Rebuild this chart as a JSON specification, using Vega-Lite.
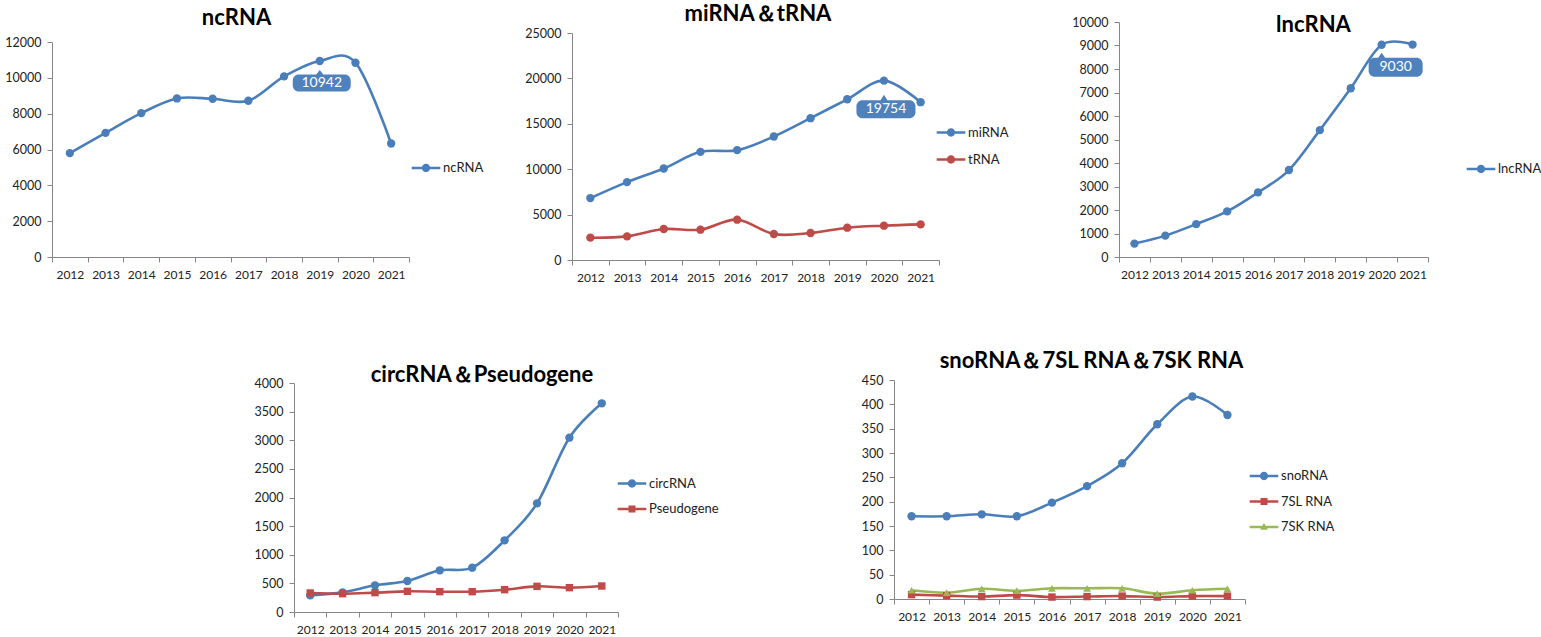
{
  "$schema": "https://vega.github.io/schema/vega-lite/v6.json",
  "background": "white",
  "padding": {"left": 4, "top": 3, "right": 0, "bottom": 0},
  "spacing": 67,
  "resolve": {
    "scale": {"color": "independent", "shape": "independent"},
    "legend": {"color": "independent", "shape": "independent"}
  },
  "datasets": {
    "counts": [
      {"year": "2012", "series": "ncRNA", "value": 5800},
      {"year": "2013", "series": "ncRNA", "value": 6930},
      {"year": "2014", "series": "ncRNA", "value": 8030},
      {"year": "2015", "series": "ncRNA", "value": 8850},
      {"year": "2016", "series": "ncRNA", "value": 8830},
      {"year": "2017", "series": "ncRNA", "value": 8720},
      {"year": "2018", "series": "ncRNA", "value": 10080},
      {"year": "2019", "series": "ncRNA", "value": 10942},
      {"year": "2020", "series": "ncRNA", "value": 10845},
      {"year": "2021", "series": "ncRNA", "value": 6335},
      {"year": "2012", "series": "miRNA", "value": 6820},
      {"year": "2013", "series": "miRNA", "value": 8580},
      {"year": "2014", "series": "miRNA", "value": 10080},
      {"year": "2015", "series": "miRNA", "value": 11910},
      {"year": "2016", "series": "miRNA", "value": 12100},
      {"year": "2017", "series": "miRNA", "value": 13600},
      {"year": "2018", "series": "miRNA", "value": 15620},
      {"year": "2019", "series": "miRNA", "value": 17700},
      {"year": "2020", "series": "miRNA", "value": 19754},
      {"year": "2021", "series": "miRNA", "value": 17380},
      {"year": "2012", "series": "tRNA", "value": 2460},
      {"year": "2013", "series": "tRNA", "value": 2600},
      {"year": "2014", "series": "tRNA", "value": 3410},
      {"year": "2015", "series": "tRNA", "value": 3340},
      {"year": "2016", "series": "tRNA", "value": 4440},
      {"year": "2017", "series": "tRNA", "value": 2860},
      {"year": "2018", "series": "tRNA", "value": 2970},
      {"year": "2019", "series": "tRNA", "value": 3560},
      {"year": "2020", "series": "tRNA", "value": 3780},
      {"year": "2021", "series": "tRNA", "value": 3920},
      {"year": "2012", "series": "lncRNA", "value": 570},
      {"year": "2013", "series": "lncRNA", "value": 910},
      {"year": "2014", "series": "lncRNA", "value": 1400},
      {"year": "2015", "series": "lncRNA", "value": 1940},
      {"year": "2016", "series": "lncRNA", "value": 2750},
      {"year": "2017", "series": "lncRNA", "value": 3700},
      {"year": "2018", "series": "lncRNA", "value": 5400},
      {"year": "2019", "series": "lncRNA", "value": 7180},
      {"year": "2020", "series": "lncRNA", "value": 9030},
      {"year": "2021", "series": "lncRNA", "value": 9040},
      {"year": "2012", "series": "circRNA", "value": 290},
      {"year": "2013", "series": "circRNA", "value": 343},
      {"year": "2014", "series": "circRNA", "value": 466},
      {"year": "2015", "series": "circRNA", "value": 541},
      {"year": "2016", "series": "circRNA", "value": 728},
      {"year": "2017", "series": "circRNA", "value": 774},
      {"year": "2018", "series": "circRNA", "value": 1252},
      {"year": "2019", "series": "circRNA", "value": 1898},
      {"year": "2020", "series": "circRNA", "value": 3045},
      {"year": "2021", "series": "circRNA", "value": 3645},
      {"year": "2012", "series": "Pseudogene", "value": 332},
      {"year": "2013", "series": "Pseudogene", "value": 320},
      {"year": "2014", "series": "Pseudogene", "value": 338},
      {"year": "2015", "series": "Pseudogene", "value": 361},
      {"year": "2016", "series": "Pseudogene", "value": 355},
      {"year": "2017", "series": "Pseudogene", "value": 355},
      {"year": "2018", "series": "Pseudogene", "value": 390},
      {"year": "2019", "series": "Pseudogene", "value": 448},
      {"year": "2020", "series": "Pseudogene", "value": 425},
      {"year": "2021", "series": "Pseudogene", "value": 454},
      {"year": "2012", "series": "snoRNA", "value": 170},
      {"year": "2013", "series": "snoRNA", "value": 170},
      {"year": "2014", "series": "snoRNA", "value": 174},
      {"year": "2015", "series": "snoRNA", "value": 170},
      {"year": "2016", "series": "snoRNA", "value": 198},
      {"year": "2017", "series": "snoRNA", "value": 232},
      {"year": "2018", "series": "snoRNA", "value": 279},
      {"year": "2019", "series": "snoRNA", "value": 359},
      {"year": "2020", "series": "snoRNA", "value": 416},
      {"year": "2021", "series": "snoRNA", "value": 378},
      {"year": "2012", "series": "7SL RNA", "value": 9},
      {"year": "2013", "series": "7SL RNA", "value": 7},
      {"year": "2014", "series": "7SL RNA", "value": 5},
      {"year": "2015", "series": "7SL RNA", "value": 8},
      {"year": "2016", "series": "7SL RNA", "value": 4},
      {"year": "2017", "series": "7SL RNA", "value": 5},
      {"year": "2018", "series": "7SL RNA", "value": 6},
      {"year": "2019", "series": "7SL RNA", "value": 4},
      {"year": "2020", "series": "7SL RNA", "value": 6},
      {"year": "2021", "series": "7SL RNA", "value": 6},
      {"year": "2012", "series": "7SK RNA", "value": 18},
      {"year": "2013", "series": "7SK RNA", "value": 13},
      {"year": "2014", "series": "7SK RNA", "value": 21},
      {"year": "2015", "series": "7SK RNA", "value": 17},
      {"year": "2016", "series": "7SK RNA", "value": 22},
      {"year": "2017", "series": "7SK RNA", "value": 22},
      {"year": "2018", "series": "7SK RNA", "value": 22},
      {"year": "2019", "series": "7SK RNA", "value": 11},
      {"year": "2020", "series": "7SK RNA", "value": 18},
      {"year": "2021", "series": "7SK RNA", "value": 21}
    ]
  },
  "data": {"name": "counts"},
  "config": {
    "view": {"stroke": null},
    "font": "Lato",
    "axis": {
      "grid": false,
      "domainColor": "#868686",
      "tickColor": "#868686",
      "tickSize": 5,
      "labelFont": "Lato",
      "labelColor": "#222222",
      "labelPadding": 7
    },
    "axisX": {"labelFontSize": 12},
    "axisY": {"labelPadding": 6, "labelFontSize": 12.5},
    "title": {"font": "Lato", "fontSize": 22, "fontWeight": "bold", "color": "#000000", "frame": "group", "anchor": "middle", "baseline": "alphabetic"},
    "legend": {
      "labelFont": "Lato",
      "labelFontSize": 13,
      "labelColor": "#222222",
      "symbolSize": 676,
      "labelOffset": 4,
      "rowPadding": 0,
      "padding": 0,
      "symbolStrokeWidth": 0,
      "symbolOpacity": 1,
      "symbolType": "M-1.1,-0.1 L1.1,-0.1 L1.1,0.1 L-1.1,0.1 Z M-0.32,0 A0.32,0.32 0 1 1 0.32,0 A0.32,0.32 0 1 1 -0.32,0 Z"
    }
  },
  "vconcat": [
    {
      "bounds": "flush",
      "spacing": 0,
      "resolve": {
        "scale": {"color": "independent", "shape": "independent"},
        "legend": {"color": "independent", "shape": "independent"}
      },
      "hconcat": [
        {
          "width": 357,
          "height": 235,
          "title": {"text": "ncRNA", "offset": -8, "dx": 6},
          "transform": [{"filter": {"field": "series", "oneOf": ["ncRNA"]}}],
          "encoding": {
            "x": {"field": "year", "type": "ordinal", "title": null, "bandPosition": 0.5, "scale": {"type": "band", "paddingInner": 0, "paddingOuter": 0}, "axis": {"tickBand": "extent", "labelAngle": 0, "labelOverlap": false}},
            "y": {"field": "value", "type": "quantitative", "title": null, "scale": {"domain": [0, 12000], "nice": false, "range": [235, 20]}, "axis": {"values": [0, 2000, 4000, 6000, 8000, 10000, 12000], "format": "d"}},
            "color": {
              "field": "series", "type": "nominal",
              "scale": {"domain": ["ncRNA"], "range": ["#4A7EBB"]},
              "legend": {"title": null, "orient": "none", "legendX": 361, "legendY": 133}
            }
          },
          "layer": [
            {"mark": {"type": "line", "interpolate": "cardinal", "strokeWidth": 2.6}},
            {"mark": {"type": "point", "filled": true, "opacity": 1, "size": 70, "shape": "circle"}},
            {
              "transform": [{"filter": "datum.year === '2019'"}],
              "mark": {"type": "point", "filled": true, "opacity": 1, "size": 400, "shape": "M-2.1,1.35 L-0.35,1.35 L0,0.9 L0.35,1.35 L2.5,1.35 A0.6,0.6 0 0 1 3.1,1.95 L3.1,2.45 A0.6,0.6 0 0 1 2.5,3.05 L-2.1,3.05 A0.6,0.6 0 0 1 -2.7,2.45 L-2.7,1.95 A0.6,0.6 0 0 1 -2.1,1.35 Z"},
              "encoding": {"color": {"value": "#4F81BD"}}
            },
            {
              "transform": [{"filter": "datum.year === '2019'"}],
              "mark": {"type": "text", "fontSize": 14, "font": "Lato", "dy": 22, "dx": 2, "baseline": "middle"},
              "encoding": {"text": {"field": "value", "type": "quantitative", "format": "d"}, "color": {"value": "#FFFFFF"}}
            }
          ]
        },
        {"data": {"values": []}, "mark": "point", "width": 163, "height": 1},
        {
          "width": 367,
          "height": 238,
          "title": {"text": "miRNA＆tRNA", "offset": -4, "dx": 2.5},
          "transform": [{"filter": {"field": "series", "oneOf": ["miRNA", "tRNA"]}}],
          "encoding": {
            "x": {"field": "year", "type": "ordinal", "title": null, "bandPosition": 0.5, "scale": {"type": "band", "paddingInner": 0, "paddingOuter": 0}, "axis": {"tickBand": "extent", "labelAngle": 0, "labelOverlap": false}},
            "y": {"field": "value", "type": "quantitative", "title": null, "scale": {"domain": [0, 25000], "nice": false, "range": [238, 11]}, "axis": {"values": [0, 5000, 10000, 15000, 20000, 25000], "format": "d"}},
            "color": {
              "field": "series", "type": "nominal",
              "scale": {"domain": ["miRNA", "tRNA"], "range": ["#4A7EBB", "#BE4B48"]},
              "legend": {"title": null, "orient": "none", "legendX": 366, "legendY": 97.5, "rowPadding": 7}
            }
          },
          "layer": [
            {"mark": {"type": "line", "interpolate": "cardinal", "strokeWidth": 2.6}},
            {"mark": {"type": "point", "filled": true, "opacity": 1, "size": 70, "shape": "circle"}},
            {
              "transform": [{"filter": "datum.year === '2020' && datum.series === 'miRNA'"}],
              "mark": {"type": "point", "filled": true, "opacity": 1, "size": 400, "shape": "M-2.15,1.95 L-0.35,1.95 L0,1.4 L0.35,1.95 L2.55,1.95 A0.6,0.6 0 0 1 3.15,2.55 L3.15,3.15 A0.6,0.6 0 0 1 2.55,3.75 L-2.15,3.75 A0.6,0.6 0 0 1 -2.75,3.15 L-2.75,2.55 A0.6,0.6 0 0 1 -2.15,1.95 Z"},
              "encoding": {"color": {"value": "#4F81BD"}}
            },
            {
              "transform": [{"filter": "datum.year === '2020' && datum.series === 'miRNA'"}],
              "mark": {"type": "text", "fontSize": 14, "font": "Lato", "dy": 28.5, "dx": 2, "baseline": "middle"},
              "encoding": {"text": {"field": "value", "type": "quantitative", "format": "d"}, "color": {"value": "#FFFFFF"}}
            }
          ]
        },
        {"data": {"values": []}, "mark": "point", "width": 180, "height": 1},
        {
          "width": 309,
          "height": 235,
          "title": {"text": "lncRNA", "offset": -21, "dx": 40},
          "transform": [{"filter": {"field": "series", "oneOf": ["lncRNA"]}}],
          "encoding": {
            "x": {"field": "year", "type": "ordinal", "title": null, "bandPosition": 0.5, "scale": {"type": "band", "paddingInner": 0, "paddingOuter": 0}, "axis": {"tickBand": "extent", "labelAngle": 0, "labelOverlap": false}},
            "y": {"field": "value", "type": "quantitative", "title": null, "scale": {"domain": [0, 10000], "nice": false}, "axis": {"values": [0, 1000, 2000, 3000, 4000, 5000, 6000, 7000, 8000, 9000, 10000], "format": "d"}},
            "color": {
              "field": "series", "type": "nominal",
              "scale": {"domain": ["lncRNA"], "range": ["#4A7EBB"]},
              "legend": {"title": null, "orient": "none", "legendX": 349, "legendY": 134}
            }
          },
          "layer": [
            {"mark": {"type": "line", "interpolate": "cardinal", "strokeWidth": 2.6}},
            {"mark": {"type": "point", "filled": true, "opacity": 1, "size": 70, "shape": "circle"}},
            {
              "transform": [{"filter": "datum.year === '2020'"}],
              "mark": {"type": "point", "filled": true, "opacity": 1, "size": 400, "shape": "M-0.7,1.3 L-0.35,1.3 L0,0.8 L0.35,1.3 L3.5,1.3 A0.6,0.6 0 0 1 4.1,1.9 L4.1,2.6 A0.6,0.6 0 0 1 3.5,3.2 L-0.7,3.2 A0.6,0.6 0 0 1 -1.3,2.6 L-1.3,1.9 A0.6,0.6 0 0 1 -0.7,1.3 Z"},
              "encoding": {"color": {"value": "#4F81BD"}}
            },
            {
              "transform": [{"filter": "datum.year === '2020'"}],
              "mark": {"type": "text", "fontSize": 14, "font": "Lato", "dy": 22.5, "dx": 14, "baseline": "middle"},
              "encoding": {"text": {"field": "value", "type": "quantitative", "format": "d"}, "color": {"value": "#FFFFFF"}}
            }
          ]
        }
      ]
    },
    {
      "bounds": "flush",
      "spacing": 0,
      "resolve": {
        "scale": {"color": "independent", "shape": "independent"},
        "legend": {"color": "independent", "shape": "independent"}
      },
      "hconcat": [
        {"data": {"values": []}, "mark": "point", "width": 242, "height": 1},
        {
          "width": 324,
          "height": 232,
          "title": {"text": "circRNA＆Pseudogene", "offset": -10, "dx": 26},
          "transform": [{"filter": {"field": "series", "oneOf": ["circRNA", "Pseudogene"]}}],
          "encoding": {
            "x": {"field": "year", "type": "ordinal", "title": null, "bandPosition": 0.5, "scale": {"type": "band", "paddingInner": 0, "paddingOuter": 0}, "axis": {"tickBand": "extent", "labelAngle": 0, "labelOverlap": false}},
            "y": {"field": "value", "type": "quantitative", "title": null, "scale": {"domain": [0, 4000], "nice": false, "range": [232, 3]}, "axis": {"values": [0, 500, 1000, 1500, 2000, 2500, 3000, 3500, 4000], "format": "d"}},
            "color": {
              "field": "series", "type": "nominal",
              "scale": {"domain": ["circRNA", "Pseudogene"], "range": ["#4A7EBB", "#BE4B48"]},
              "legend": {"title": null, "orient": "none", "legendX": 325, "legendY": 90.5, "rowPadding": 5.5}
            }
          },
          "layer": [
            {"mark": {"type": "line", "interpolate": "cardinal", "strokeWidth": 2.6}},
            {
              "transform": [{"filter": "datum.series === 'circRNA'"}],
              "mark": {"type": "point", "filled": true, "opacity": 1, "size": 70, "shape": "circle"}
            },
            {
              "transform": [{"filter": "datum.series === 'Pseudogene'"}],
              "mark": {"type": "point", "filled": true, "opacity": 1, "size": 55, "shape": "square"}
            },
            {
              "mark": {"type": "point", "filled": true, "opacity": 0},
              "encoding": {"shape": {"field": "series", "type": "nominal", "scale": {"domain": ["circRNA", "Pseudogene"], "range": ["M-1.1,-0.1 L1.1,-0.1 L1.1,0.1 L-1.1,0.1 Z M-0.32,0 A0.32,0.32 0 1 1 0.32,0 A0.32,0.32 0 1 1 -0.32,0 Z", "M-1.1,-0.1 L1.1,-0.1 L1.1,0.1 L-1.1,0.1 Z M-0.27,-0.27 L0.27,-0.27 L0.27,0.27 L-0.27,0.27 Z"]}, "legend": null}}
            }
          ]
        },
        {"data": {"values": []}, "mark": "point", "width": 276, "height": 1},
        {
          "width": 351,
          "height": 219,
          "title": {"text": "snoRNA＆7SL RNA＆7SK RNA", "offset": 1, "dx": 22},
          "transform": [{"filter": {"field": "series", "oneOf": ["snoRNA", "7SL RNA", "7SK RNA"]}}],
          "encoding": {
            "x": {"field": "year", "type": "ordinal", "title": null, "bandPosition": 0.5, "scale": {"type": "band", "paddingInner": 0, "paddingOuter": 0}, "axis": {"tickBand": "extent", "labelAngle": 0, "labelOverlap": false}},
            "y": {"field": "value", "type": "quantitative", "title": null, "scale": {"domain": [0, 450], "nice": false}, "axis": {"values": [0, 50, 100, 150, 200, 250, 300, 350, 400, 450], "format": "d"}},
            "color": {
              "field": "series", "type": "nominal",
              "scale": {"domain": ["snoRNA", "7SL RNA", "7SK RNA"], "range": ["#4A7EBB", "#BE4B48", "#98B954"]},
              "legend": {"title": null, "orient": "none", "legendX": 357, "legendY": 83, "rowPadding": 5.5}
            }
          },
          "layer": [
            {"mark": {"type": "line", "interpolate": "cardinal", "strokeWidth": 2.6}},
            {
              "transform": [{"filter": "datum.series === 'snoRNA'"}],
              "mark": {"type": "point", "filled": true, "opacity": 1, "size": 70, "shape": "circle"}
            },
            {
              "transform": [{"filter": "datum.series === '7SL RNA'"}],
              "mark": {"type": "point", "filled": true, "opacity": 1, "size": 55, "shape": "square"}
            },
            {
              "transform": [{"filter": "datum.series === '7SK RNA'"}],
              "mark": {"type": "point", "filled": true, "opacity": 1, "size": 60, "shape": "triangle-up"}
            },
            {
              "mark": {"type": "point", "filled": true, "opacity": 0},
              "encoding": {"shape": {"field": "series", "type": "nominal", "scale": {"domain": ["snoRNA", "7SL RNA", "7SK RNA"], "range": ["M-1.1,-0.1 L1.1,-0.1 L1.1,0.1 L-1.1,0.1 Z M-0.32,0 A0.32,0.32 0 1 1 0.32,0 A0.32,0.32 0 1 1 -0.32,0 Z", "M-1.1,-0.1 L1.1,-0.1 L1.1,0.1 L-1.1,0.1 Z M-0.27,-0.27 L0.27,-0.27 L0.27,0.27 L-0.27,0.27 Z", "M-1.1,-0.1 L1.1,-0.1 L1.1,0.1 L-1.1,0.1 Z M0,-0.3 L0.3,0.22 L-0.3,0.22 Z"]}, "legend": null}}
            }
          ]
        }
      ]
    }
  ]
}
